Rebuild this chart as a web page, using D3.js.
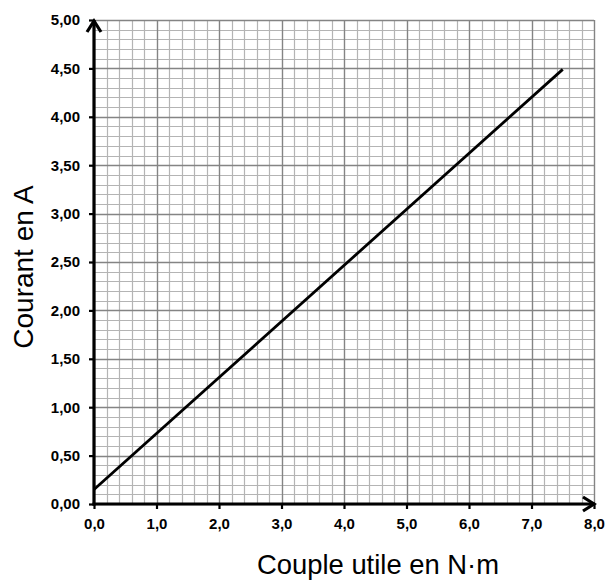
<!DOCTYPE html>
<html>
<head>
<meta charset="utf-8">
<script src="https://cdn.jsdelivr.net/npm/d3@7"></script>
<style>
html,body{margin:0;padding:0;background:#fff;}
svg{display:block;}
text{font-family:"Liberation Sans",Arial,sans-serif;}
</style>
</head>
<body>
<svg id="chart" width="608" height="581"></svg>
<script>
// Data
const torque = [0, 7.5];          // Couple utile (N·m)
const current = [0.15, 4.49];     // Courant (A)
const xTicks = [0,1,2,3,4,5,6,7,8];
const yTicks = [0,0.5,1,1.5,2,2.5,3,3.5,4,4.5,5];
const xTitle = "Couple utile en N·m";
const yTitle = "Courant en A";

(function(){
const pLeft = 94, pRight = 594, pTop = 20, pBottom = 504;

const svg = d3.select("#chart");
const x = d3.scaleLinear().domain([0, 8]).range([pLeft, pRight]);
const y = d3.scaleLinear().domain([0, 5]).range([pBottom, pTop]);
const loc = d3.formatLocale({decimal: ",", thousands: " ", grouping: [3], currency: ["", "€"]});
const fx = loc.format(".1f"), fy = loc.format(".2f");
const px = v => Math.round(v) + 0.5;

const grid = svg.append("g");
const xMinor = d3.range(0, 8.0001, 0.2);
const yMinor = d3.range(0, 5.0001, 0.1);
grid.selectAll(".vmin").data(xMinor).join("line")
  .attr("x1", d => px(x(d))).attr("x2", d => px(x(d)))
  .attr("y1", pTop).attr("y2", pBottom)
  .attr("stroke", "#b4b4b4").attr("stroke-width", 1.2);
grid.selectAll(".hmin").data(yMinor).join("line")
  .attr("y1", d => px(y(d))).attr("y2", d => px(y(d)))
  .attr("x1", pLeft).attr("x2", pRight)
  .attr("stroke", "#b4b4b4").attr("stroke-width", 1.2);
grid.selectAll(".vmaj").data(xTicks).join("line")
  .attr("x1", d => px(x(d))).attr("x2", d => px(x(d)))
  .attr("y1", pTop).attr("y2", pBottom)
  .attr("stroke", "#848484").attr("stroke-width", 1.3);
grid.selectAll(".hmaj").data(yTicks).join("line")
  .attr("y1", d => px(y(d))).attr("y2", d => px(y(d)))
  .attr("x1", pLeft).attr("x2", pRight)
  .attr("stroke", "#848484").attr("stroke-width", 1.3);

svg.append("path")
  .datum(torque.map((t, i) => [t, current[i]]))
  .attr("fill", "none").attr("stroke", "#000").attr("stroke-width", 2.8)
  .attr("d", d3.line().x(d => x(d[0])).y(d => y(d[1])));

const xAxis = d3.axisBottom(x).tickValues(xTicks).tickFormat(fx).tickSize(5).tickPadding(9);
const yAxis = d3.axisLeft(y).tickValues(yTicks).tickFormat(fy).tickSize(5).tickPadding(9);
const gx = svg.append("g").attr("transform", `translate(0,${pBottom})`).call(xAxis);
const gy = svg.append("g").attr("transform", `translate(${pLeft},0)`).call(yAxis);
[gx, gy].forEach(g => {
  g.select(".domain").remove();
  g.selectAll(".tick line").attr("stroke", "#000").attr("stroke-width", 2.2);
  g.selectAll(".tick text").attr("fill", "#000")
    .style("font-family", '"Liberation Sans",Arial,sans-serif')
    .style("font-size", "15px").style("font-weight", "bold");
});

svg.append("line").attr("x1", pLeft).attr("x2", pLeft).attr("y1", pBottom + 1.5).attr("y2", pTop)
  .attr("stroke", "#000").attr("stroke-width", 3.2);
svg.append("line").attr("x1", pLeft - 1.5).attr("x2", pRight + 1).attr("y1", pBottom).attr("y2", pBottom)
  .attr("stroke", "#000").attr("stroke-width", 3.2);
svg.append("path")
  .attr("d", `M${pLeft - 7},${pTop + 12} L${pLeft},${pTop + 1} L${pLeft + 7},${pTop + 12}`)
  .attr("fill", "none").attr("stroke", "#000").attr("stroke-width", 3.2).attr("stroke-linejoin", "miter");
svg.append("path")
  .attr("d", `M${pRight - 11},${pBottom - 7} L${pRight},${pBottom} L${pRight - 11},${pBottom + 7}`)
  .attr("fill", "none").attr("stroke", "#000").attr("stroke-width", 3.2).attr("stroke-linejoin", "miter");

svg.append("text").attr("x", 378).attr("y", 574).attr("text-anchor", "middle")
  .style("font-size", "27.4px").attr("fill", "#000").text(xTitle);
svg.append("text").attr("transform", "translate(33,267) rotate(-90)").attr("text-anchor", "middle")
  .style("font-size", "28px").attr("fill", "#000").text(yTitle);
})();
</script>
</body>
</html>
